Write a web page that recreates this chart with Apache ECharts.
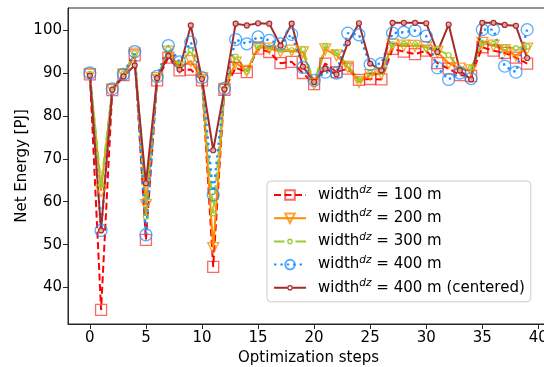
<!DOCTYPE html>
<html>
<head>
<meta charset="utf-8">
<script src="https://cdn.jsdelivr.net/npm/echarts@6/dist/echarts.min.js"></script>
<style>
  html, body { margin: 0; padding: 0; background: #ffffff; }
  #chart { width: 544px; height: 367px; }
</style>
</head>
<body>
<div id="chart"></div>
<script>
// Optimization step index (x)
const steps = [0, 1, 2, 3, 4, 5, 6, 7, 8, 9,
               10, 11, 12, 13, 14, 15, 16, 17, 18, 19,
               20, 21, 22, 23, 24, 25, 26, 27, 28, 29,
               30, 31, 32, 33, 34, 35, 36, 37, 38, 39];

// Net energy [PJ] per dead-zone width
const width100 = [89.7, 34.8, 86.0, 89.5, 94.1, 51.1, 88.3, 93.6, 90.6, 90.8,
                  88.3, 44.8, 86.1, 91.2, 90.2, 95.7, 94.9, 92.3, 92.6, 90.0,
                  87.4, 92.2, 90.2, 91.0, 88.4, 88.6, 88.5, 95.6, 95.0, 94.4,
                  95.2, 92.3, 91.0, 89.5, 89.3, 96.0, 95.2, 94.7, 93.6, 92.2];
const width200 = [89.7, 62.5, 86.2, 89.7, 94.5, 59.2, 88.8, 95.0, 91.3, 92.8,
                  88.8, 49.2, 86.3, 92.4, 90.5, 96.0, 95.7, 95.0, 95.2, 94.8,
                  87.5, 95.5, 94.1, 91.4, 87.9, 89.5, 89.9, 96.6, 96.4, 96.3,
                  96.0, 94.9, 92.3, 91.0, 90.6, 97.0, 96.4, 95.3, 94.1, 95.7];
const width300 = [89.8, 64.0, 86.2, 89.8, 94.6, 56.5, 89.0, 95.6, 92.0, 95.3,
                  88.9, 57.3, 86.3, 93.8, 90.4, 96.3, 96.0, 95.5, 95.3, 95.6,
                  87.8, 96.3, 94.7, 91.8, 88.3, 90.0, 90.2, 96.7, 96.8, 96.7,
                  95.8, 95.5, 94.2, 91.0, 91.2, 97.0, 96.8, 96.0, 95.8, 96.2];
const width400 = [90.0, 53.3, 86.3, 89.7, 95.0, 52.3, 89.2, 96.4, 92.6, 97.2,
                  88.9, 61.6, 86.4, 97.8, 96.8, 98.4, 97.6, 96.8, 99.0, 91.3,
                  88.3, 90.2, 90.0, 99.3, 98.9, 92.0, 92.2, 99.3, 99.5, 99.9,
                  98.6, 91.2, 88.5, 90.0, 88.7, 100.1, 100.1, 91.6, 90.2, 100.1];
const width400c = [89.4, 53.3, 86.1, 89.2, 91.8, 64.3, 88.8, 94.0, 90.8, 101.1,
                   88.6, 72.0, 86.2, 101.5, 101.1, 101.6, 101.5, 96.4, 101.5, 91.5,
                   87.9, 91.0, 89.7, 97.0, 101.6, 92.2, 90.6, 101.7, 101.7, 101.7,
                   101.6, 94.9, 101.3, 90.6, 88.5, 101.7, 101.7, 101.2, 101.0, 93.5];

// Legend labels
const seriesNames = [
  'width^dz = 100 m',
  'width^dz = 200 m',
  'width^dz = 300 m',
  'width^dz = 400 m',
  'width^dz = 400 m (centered)'
];

// Axis tick positions
const xTicks = [0, 5, 10, 15, 20, 25, 30, 35, 40];
const yTicks = [40, 50, 60, 70, 80, 90, 100];

const FONT = 'DejaVu Sans';
const AXIS = '#262626';

// Legend glyphs for the small-marker series: line pieces with a small ring
const ICON_DASHED_RING = 'path://M0 5H10.5V7H0Z M21.5 5H32V7H21.5Z ' +
  'M18.8 6A2.8 2.8 0 1 0 13.2 6A2.8 2.8 0 1 0 18.8 6Z ' +
  'M17.5 6A1.5 1.5 0 1 1 14.5 6A1.5 1.5 0 1 1 17.5 6Z';
const ICON_SOLID_RING = 'path://M0 5H13.4V7H0Z M18.6 5H32V7H18.6Z ' +
  'M18.8 6A2.8 2.8 0 1 0 13.2 6A2.8 2.8 0 1 0 18.8 6Z ' +
  'M17.5 6A1.5 1.5 0 1 1 14.5 6A1.5 1.5 0 1 1 17.5 6Z';

function pairs(values) {
  return steps.map((s, i) => [s, values[i]]);
}

function lineSeries(name, values, cfg) {
  return {
    type: 'line',
    name: name,
    data: pairs(values),
    symbol: cfg.symbol,
    symbolSize: cfg.size,
    symbolRotate: cfg.rotate || 0,
    showAllSymbol: true,
    clip: false,
    lineStyle: { color: cfg.color, width: cfg.width, type: cfg.dash, cap: 'butt' },
    itemStyle: {
      color: cfg.fill || 'rgba(255,255,255,0)',
      borderColor: cfg.edge || cfg.color,
      borderWidth: cfg.edgeWidth || 1.3
    },
    emphasis: { disabled: true }
  };
}

const chart = echarts.init(document.getElementById('chart'), null, { renderer: 'canvas' });

chart.setOption({
  animation: false,
  backgroundColor: '#ffffff',
  textStyle: { fontFamily: FONT },
  grid: {
    left: 68, top: 8, width: 481, height: 316,
    outerBoundsMode: 'none',
    containLabel: false,
    show: true, borderColor: AXIS, borderWidth: 1, backgroundColor: 'transparent'
  },
  xAxis: {
    type: 'value',
    min: -1.95, max: 40.95,
    name: 'Optimization steps',
    nameLocation: 'middle',
    nameGap: 24,
    nameTextStyle: { fontFamily: FONT, fontSize: 15, color: '#000' },
    axisLine: { show: true, onZero: false, lineStyle: { color: AXIS, width: 1 } },
    axisTick: { show: true, length: 5, customValues: xTicks, lineStyle: { color: AXIS } },
    axisLabel: { customValues: xTicks, fontFamily: FONT, fontSize: 15, color: '#000', margin: 7 },
    splitLine: { show: false }
  },
  yAxis: {
    type: 'value',
    min: 31.5, max: 105.15,
    name: 'Net Energy [PJ]',
    nameLocation: 'middle',
    nameRotate: 90,
    nameGap: 38,
    nameMoveOverlap: false,
    nameTextStyle: { fontFamily: FONT, fontSize: 15, color: '#000' },
    axisLine: { show: true, onZero: false, lineStyle: { color: AXIS, width: 1 } },
    axisTick: { show: true, length: 5, customValues: yTicks, lineStyle: { color: AXIS } },
    axisLabel: { customValues: yTicks, fontFamily: FONT, fontSize: 15, color: '#000', margin: 6 },
    splitLine: { show: false }
  },
  legend: {
    orient: 'vertical',
    left: 267,
    top: 181,
    padding: [4, 6, 4, 6],
    itemGap: 3.2,
    itemWidth: 32,
    itemHeight: 12,
    borderColor: '#cccccc',
    borderWidth: 1,
    borderRadius: 4,
    backgroundColor: 'rgba(255,255,255,0.8)',
    data: [
      seriesNames[0],
      seriesNames[1],
      { name: seriesNames[2], icon: ICON_DASHED_RING,
        itemStyle: { color: '#9acd32', borderWidth: 0 } },
      seriesNames[3],
      { name: seriesNames[4], icon: ICON_SOLID_RING,
        itemStyle: { color: '#a52a2a', borderWidth: 0 } }
    ],
    formatter: n => n.replace('^dz', '{sup|dz}'),
    textStyle: {
      fontFamily: FONT, fontSize: 15, color: '#000', lineHeight: 20,
      padding: [0, 0, 0, 7],
      rich: {
        sup: { fontFamily: FONT, fontSize: 10.5, fontStyle: 'italic', color: '#000',
               lineHeight: 12, verticalAlign: 'top' }
      }
    }
  },
  series: [
    lineSeries(seriesNames[0], width100, {
      color: '#ff0000', width: 2, dash: [7, 3.5], symbol: 'rect', size: 11,
      edge: 'rgba(255,0,0,0.6)', edgeWidth: 1.3
    }),
    lineSeries(seriesNames[1], width200, {
      color: '#ff8c00', width: 2, dash: 'solid', symbol: 'triangle', size: 11, rotate: 180,
      edge: 'rgba(255,140,0,0.8)', edgeWidth: 1.3
    }),
    lineSeries(seriesNames[2], width300, {
      color: '#9acd32', width: 2, dash: [9, 4], symbol: 'circle', size: 5,
      edge: '#9acd32', edgeWidth: 1.2
    }),
    lineSeries(seriesNames[3], width400, {
      color: '#1e90ff', width: 2.4, dash: [2.4, 4], symbol: 'circle', size: 12,
      edge: 'rgba(30,144,255,0.75)', edgeWidth: 1.3
    }),
    lineSeries(seriesNames[4], width400c, {
      color: '#a52a2a', width: 2, dash: 'solid', symbol: 'circle', size: 5,
      edge: '#a52a2a', fill: 'rgba(230,170,170,0.9)', edgeWidth: 1.2
    })
  ]
});
</script>
</body>
</html>
